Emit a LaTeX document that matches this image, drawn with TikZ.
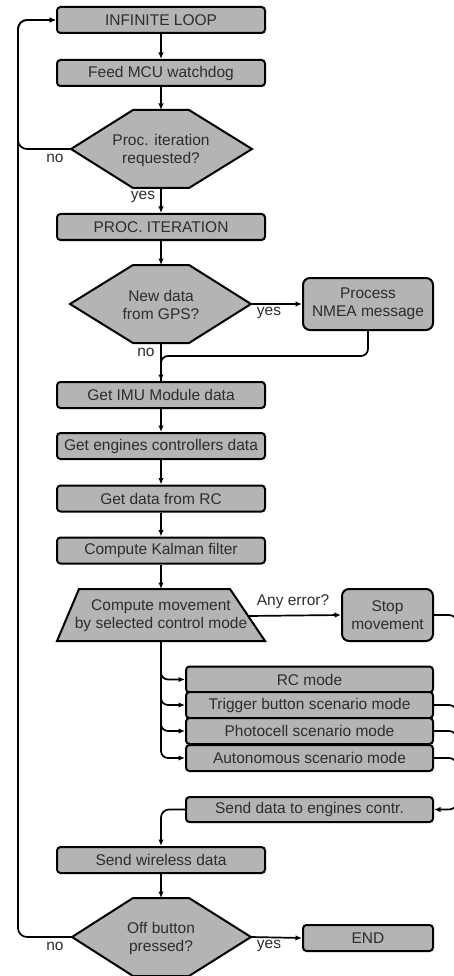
\documentclass[tikz,border=0pt]{standalone}
\usepackage{fontspec}
\setmainfont{Liberation Sans}
\usetikzlibrary{arrows.meta,calc}
\definecolor{boxgray}{RGB}{180,180,180}
\definecolor{txtgray}{RGB}{45,45,45}
\newcommand\myfs{\fontsize{15.5}{18}\selectfont}
\tikzset{
 box/.style={draw=black, fill=boxgray, line width=2pt, rounded corners=3.5pt, inner sep=0pt, text=txtgray, font=\myfs, align=center},
 mainbox/.style={box, minimum width=208pt, minimum height=26pt},
 modebox/.style={box, minimum width=247pt, minimum height=26pt},
 sidebox/.style={box, minimum width=130pt, minimum height=52pt, rounded corners=7pt},
 poly/.style={draw=black, fill=boxgray, line width=2pt, line join=miter},
 ptext/.style={text=txtgray, font=\myfs, align=center, inner sep=0pt},
 conn/.style={line width=1.7pt, -{Latex[length=6.5pt,width=5.5pt]}},
 plain/.style={line width=1.7pt},
 lbl/.style={text=txtgray, font=\myfs, inner sep=0pt},
}
\begin{document}
\begin{tikzpicture}[x=1pt,y=-1pt]
\useasboundingbox (0,0) rectangle (454,976);
\clip (0,0) rectangle (454,976);

% main column boxes
\node[mainbox] (loop) at (161,20) {INFINITE LOOP};
\node[mainbox] (feed) at (161,73) {Feed MCU watchdog};

% decision 1
\draw[poly] (71,149) -- (133,110) -- (189,110) -- (252,149) -- (189,188) -- (133,188) -- cycle;
\coordinate (d1n) at (161,110);
\coordinate (d1s) at (161,188);
\coordinate (d1w) at (71,149);
\node[ptext] (d1) at (161,150) {Proc. iteration\\requested?};

\node[mainbox] (proc) at (161,227) {PROC. ITERATION};

% decision 2
\draw[poly] (70,304) -- (133,265) -- (189,265) -- (251,304) -- (189,343) -- (133,343) -- cycle;
\coordinate (d2n) at (161,265);
\coordinate (d2s) at (161,343);
\coordinate (d2e) at (251,304);
\node[ptext] (d2) at (161,305) {New data\\from GPS?};

\node[sidebox] (nmea) at (368,304) {Process\\NMEA message};

\node[mainbox] (imu) at (161,395) {Get IMU Module data};
\node[mainbox] (eng) at (161,446) {Get engines controllers data};
\node[mainbox] (rc) at (161,498.5) {Get data from RC};
\node[mainbox] (kal) at (161,550.5) {Compute Kalman filter};

% trapezoid
\draw[poly] (57,641) -- (79,589) -- (230,589) -- (265,641) -- cycle;
\coordinate (tn) at (161,589);
\coordinate (ts) at (161,641);
\coordinate (te) at (248,616);
\node[ptext] (trap) at (161,616) {Compute movement\\by selected control mode};

\node[box, minimum width=91pt, minimum height=52pt, rounded corners=7pt] (stop) at (387.5,615) {Stop\\movement};

% modes
\node[modebox] (rcm) at (309.5,679.5) {RC mode};
\node[modebox] (trig) at (309.5,705) {Trigger button scenario mode};
\node[modebox] (photo) at (309.5,731) {Photocell scenario mode};
\node[modebox] (auto) at (309.5,758) {Autonomous scenario mode};

\node[modebox, minimum height=25pt] (send) at (309.5,809.5) {Send data to engines contr.};
\node[mainbox] (wless) at (161,860) {Send wireless data};

% decision 3
\draw[poly] (72,937) -- (133,898) -- (189,898) -- (251,937) -- (189,976) -- (133,976) -- cycle;
\coordinate (d3n) at (161,898);
\coordinate (d3w) at (72,937);
\coordinate (d3e) at (251,937);
\node[ptext] (d3) at (161,938) {Off button\\pressed?};

\node[box, minimum width=130pt, minimum height=26pt] (endb) at (368,938) {END};

% helper coordinates
\coordinate (lx) at (18,0);
\coordinate (rx) at (457,0);
\coordinate (j1) at (161,356);

% connectors
\draw[conn] (loop.south) -- (feed.north);
\draw[conn] (feed.south) -- (d1n);
\draw[conn] (d1s) -- (proc.north);
\draw[conn, rounded corners=9pt] (d1w) -| (lx |- loop.west) -- (loop.west);
\draw[conn, rounded corners=9pt] (d3w) -| (lx |- loop.west) -- (loop.west);
\draw[conn] (proc.south) -- (d2n);
\draw[conn] (d2e) -- (nmea.west);
\draw[conn] (d2s) -- (imu.north);
\draw[plain, rounded corners=7pt] (nmea.south) |- (j1) -- (imu.north);
\draw[conn] (imu.south) -- (eng.north);
\draw[conn] (eng.south) -- (rc.north);
\draw[conn] (rc.south) -- (kal.north);
\draw[conn] (kal.south) -- (tn);
\draw[conn] (te) -- (stop.west);
\draw[conn, rounded corners=7pt] (ts) |- (rcm.west);
\draw[conn, rounded corners=7pt] (ts) |- (trig.west);
\draw[conn, rounded corners=7pt] (ts) |- (photo.west);
\draw[conn, rounded corners=7pt] (ts) |- (auto.west);
\draw[conn, rounded corners=8pt] (stop.east) -| (rx |- send.east) -- (send.east);
\draw[plain, rounded corners=8pt] (trig.east) -| (rx |- send.east);
\draw[plain, rounded corners=8pt] (photo.east) -| (rx |- send.east);
\draw[plain, rounded corners=8pt] (auto.east) -| (rx |- send.east);
\draw[conn, rounded corners=8pt] (send.west) -| (wless.north);
\draw[conn] (wless.south) -- (d3n);
\draw[conn] (d3e) -- (endb.west);

% labels
\node[lbl] (l1) at (55,158) {no};
\node[lbl] (l2) at (143,197) {yes};
\node[lbl] (l3) at (269,313) {yes};
\node[lbl] (l4) at (146,352) {no};
\node[lbl] (l5) at (293,602) {Any error?};
\node[lbl] (l6) at (269,946) {yes};
\node[lbl] (l7) at (55,946) {no};
\end{tikzpicture}
\end{document}
